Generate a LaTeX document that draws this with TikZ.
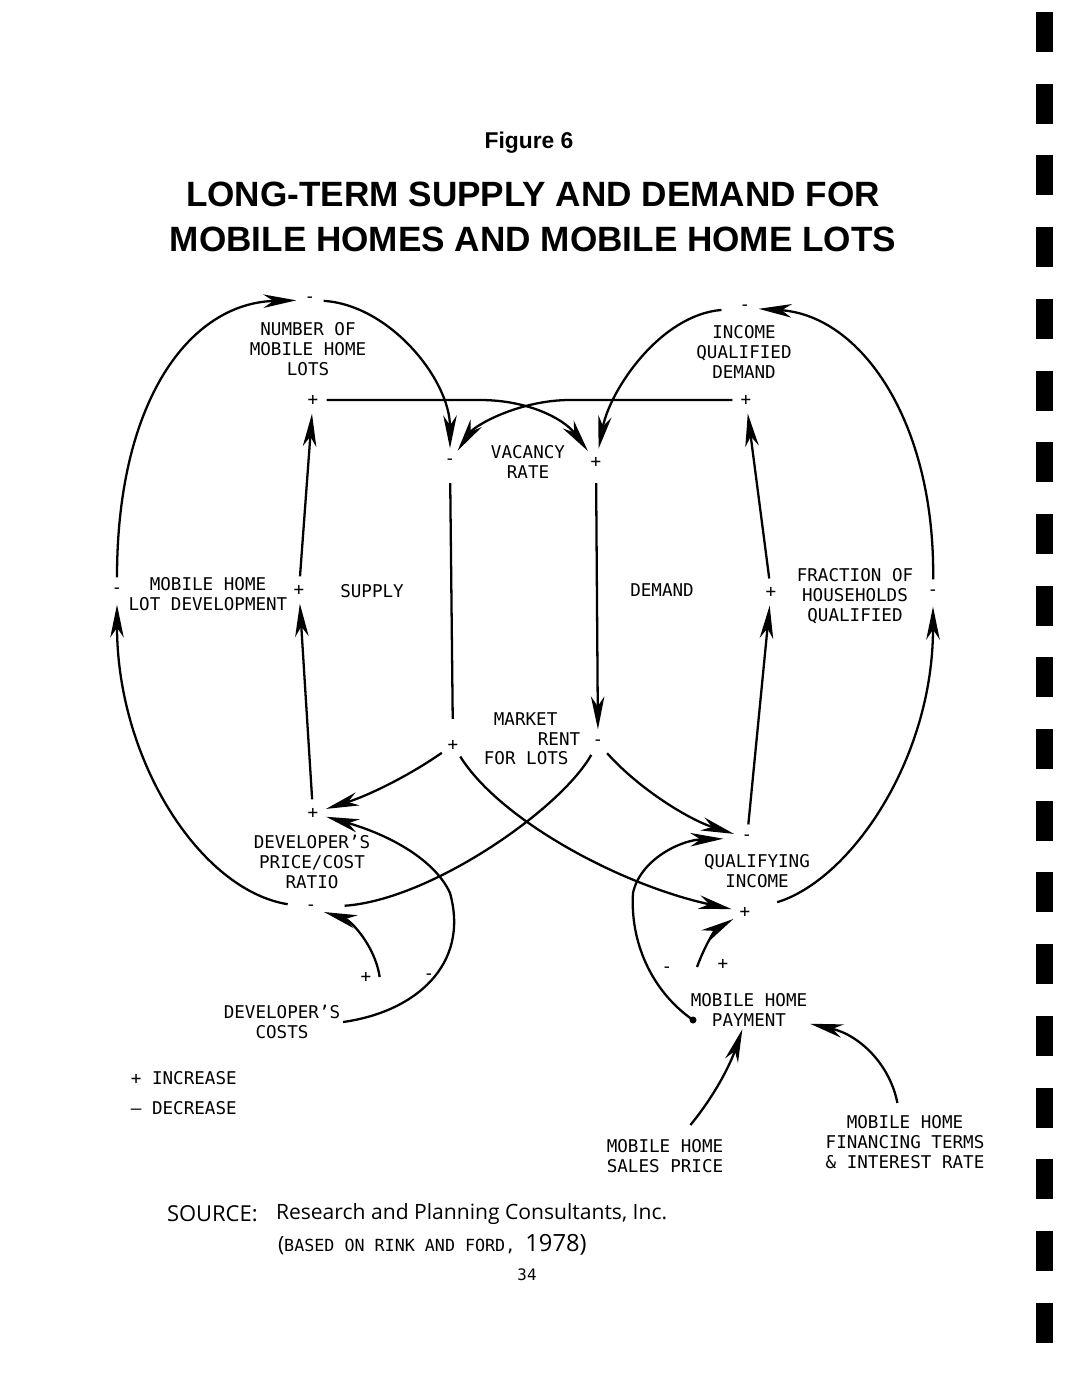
\documentclass[tikz,border=0pt]{standalone}
\usepackage{fontspec}
\usepackage{tikz}
\usetikzlibrary{arrows.meta}
\newfontfamily\plotfont{DejaVu Sans Mono}
\newfontfamily\headfont{Liberation Sans}
\newfontfamily\srcfont{Open Sans}

\begin{document}
\begin{tikzpicture}[x=0.02cm,y=-0.02cm,line width=1.3pt,
  >={Stealth[length=0.66cm,width=0.27cm,inset=0.2cm]},
  lbl/.style={font=\plotfont\fontsize{10}{11.2}\selectfont,align=center,inner sep=1pt},
  sgn/.style={font=\plotfont\fontsize{10}{11.2}\selectfont,circle,minimum size=0.5cm,inner sep=0pt}]
  \fill[white] (0,0) rectangle (1067,1379);
  \useasboundingbox (0,0) rectangle (1067,1379);

  % heading
  \node[font=\headfont\bfseries\fontsize{13}{15}\selectfont] (fig) at (529,143) {Figure 6};
  \node[font=\headfont\bfseries\fontsize{20}{25.6}\selectfont,align=center] (title) at (533,217)
    {LONG-TERM SUPPLY AND DEMAND FOR\\MOBILE HOMES AND MOBILE HOME LOTS};

  % variables
  \node[lbl] (lots) at (308,349) {NUMBER OF\\MOBILE HOME\\LOTS};
  \node[lbl] (iqd) at (744,352) {INCOME\\QUALIFIED\\DEMAND};
  \node[lbl] (vac) at (528,462) {VACANCY\\RATE};
  \node[lbl] (dev) at (208,594) {MOBILE HOME\\LOT DEVELOPMENT};
  \node[lbl] (supply) at (372,591) {SUPPLY};
  \node[lbl] (demand) at (662,590) {DEMAND};
  \node[lbl] (frac) at (855,596) {FRACTION OF\\HOUSEHOLDS\\QUALIFIED};
  \node[lbl,align=left,anchor=west] (rent) at (481,739)
    {\hspace*{0.2cm}MARKET\\\hspace*{1.08cm}RENT\\FOR LOTS};
  \node[lbl] (ratio) at (312,862) {DEVELOPER’S\\PRICE/COST\\RATIO};
  \node[lbl] (costs) at (282,1022) {DEVELOPER’S\\COSTS};
  \node[lbl] (qinc) at (757,871) {QUALIFYING\\INCOME};
  \node[lbl] (pay) at (749,1010) {MOBILE HOME\\PAYMENT};
  \node[lbl] (price) at (665,1156) {MOBILE HOME\\SALES PRICE};
  \node[lbl] (fin) at (905,1142) {MOBILE HOME\\FINANCING TERMS\\\& INTEREST RATE};
  \node[lbl,anchor=west] (incr) at (128,1078) {+ INCREASE};
  \node[lbl,anchor=west] (decr) at (128,1108) {– DECREASE};

  % polarity signs
  \node[sgn] (lotsm) at (310,300) {-};
  \node[sgn] (lotsp) at (313,400) {+};
  \node[sgn] (iqdm) at (745,308) {-};
  \node[sgn] (iqdp) at (746,400) {+};
  \node[sgn] (vacm) at (450,462) {-};
  \node[sgn] (vacp) at (596,462) {+};
  \node[sgn] (devm) at (117,591) {-};
  \node[sgn] (devp) at (299,590) {+};
  \node[sgn] (fracp) at (771,592) {+};
  \node[sgn] (fracm) at (933,593) {-};
  \node[sgn] (rentp) at (453,745) {+};
  \node[sgn] (rentm) at (598,743) {-};
  \node[sgn] (ratiop) at (313,813) {+};
  \node[sgn] (ratiom) at (311,908) {-};
  \node[sgn] (qim) at (747,838) {-};
  \node[sgn] (qip) at (745,912) {+};
  \node[sgn] (costp) at (366,977) {+};
  \node[sgn] (costm) at (429,977) {-};
  \node[sgn] (paym) at (667,970) {-};
  \node[sgn] (payp) at (723,964) {+};
  \coordinate (paydot) at (693,1020);
  \coordinate (payst) at (697,967);

  % supply side
  \draw[->] (devm) .. controls (117,400) and (190,303) .. (lotsm);
  \draw[->] (lotsm) .. controls (390,305) and (450,380) .. (vacm);
  \draw[->] (lotsp) -- (480,400) .. controls (530,400) and (565,420) .. (vacp);
  \draw[->] (devp) -- (lotsp);
  \draw[->] (ratiop) -- (devp);
  \draw[->,shorten <=0.2cm] (ratiom) .. controls (200,890) and (117,760) .. (devm);
  \draw[shorten <=0.15cm,shorten >=0.25cm] (vacm) -- (rentp);
  \draw[->] (rentp) .. controls (410,775) and (370,795) .. (ratiop);
  \draw[shorten >=0.4cm] (rentm) .. controls (560,810) and (430,900) .. (ratiom);
  \draw[->] (costs.east) .. controls (415,1012) and (470,965) .. (450,893)
    .. controls (435,860) and (390,835) .. (ratiop);
  \draw[->] (costp.east) .. controls (375,945) and (350,920) .. (ratiom);

  % demand side
  \draw[->] (iqdp) -- (570,400) .. controls (520,400) and (475,425) .. (vacm);
  \draw[->,shorten <=0.2cm] (iqdm) .. controls (660,315) and (610,390) .. (vacp);
  \draw[->] (fracm) .. controls (935,420) and (860,315) .. (iqdm);
  \draw[->,shorten <=0.15cm] (vacp) -- (rentm);
  \draw[->] (rentp) .. controls (500,820) and (620,885) .. (qip);
  \draw[->] (rentm) .. controls (640,790) and (690,820) .. (qim);
  \draw[->] (qim) -- (fracp);
  \draw[->] (fracp) -- (iqdp);
  \draw[->,shorten <=0.4cm] (qip) .. controls (850,880) and (933,760) .. (fracm);
  \draw[->,shorten >=0.2cm] (paydot) .. controls (650,990) and (630,940) .. (633,893)
    .. controls (640,860) and (680,840) .. (qim);
  \fill (paydot) circle (0.07cm);
  \draw[->] (payst) .. controls (705,945) and (715,930) .. (qip);
  \draw[->,shorten <=0.3cm] (price) .. controls (715,1095) and (730,1065) .. (pay);
  \draw[->,shorten <=0.2cm] (fin) .. controls (890,1065) and (860,1035) .. (pay);

  % source
  \node[anchor=west,font=\srcfont\fontsize{12.5}{14}\selectfont] (src) at (160,1214) {SOURCE:};
  \node[anchor=west,font=\srcfont\fontsize{12}{14}\selectfont] (srcname) at (269,1214)
    {Research and Planning Consultants, Inc.};
  \node[anchor=west,font=\plotfont\fontsize{9.5}{11}\selectfont] (based) at (271,1245)
    {{\srcfont\fontsize{12}{13}\selectfont(}BASED ON RINK AND FORD, {\srcfont\fontsize{13.5}{14}\selectfont1978)}};
  \node[font=\plotfont\fontsize{9}{11}\selectfont] (pg) at (527,1275) {34};

  % binding holes
  \foreach \k in {0,...,18}
    \fill (1036,{12+71.7*\k}) rectangle (1053,{52+71.7*\k});
\end{tikzpicture}
\end{document}
